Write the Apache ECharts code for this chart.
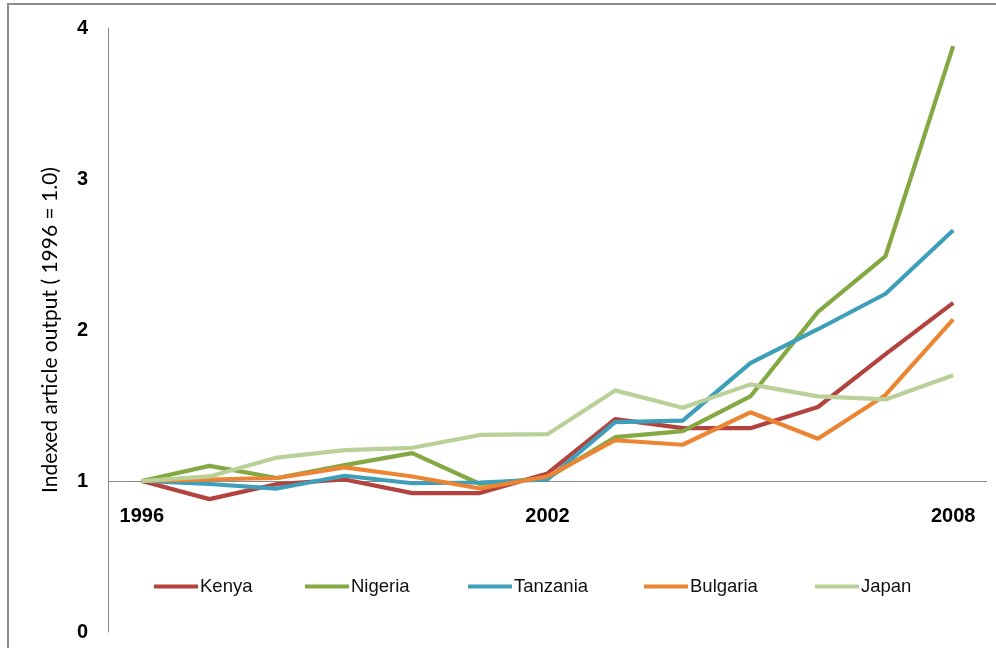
<!DOCTYPE html>
<html>
<head>
<meta charset="utf-8">
<script src="https://cdn.jsdelivr.net/npm/echarts@6/dist/echarts.min.js"></script>
<style>
  html, body { margin: 0; padding: 0; background: #fff; }
  #frame { position: absolute; left: 0; top: 0; width: 996px; height: 648px; }
  #border { position: absolute; left: 7px; top: 3px; width: 989px; height: 645px;
            border-left: 2px solid #8c8c8c; border-top: 2px solid #8c8c8c; box-sizing: border-box; }
  #chart { position: absolute; left: 0; top: 0; width: 996px; height: 648px; }
</style>
</head>
<body>
<div id="frame">
  <div id="border"></div>
  <div id="chart"></div>
</div>
<script>
const years = ['1996','1997','1998','1999','2000','2001','2002','2003','2004','2005','2006','2007','2008'];
const kenya    = [1.00, 0.88, 0.98, 1.01, 0.92, 0.92, 1.05, 1.41, 1.35, 1.35, 1.49, 1.84, 2.18];
const nigeria  = [1.00, 1.10, 1.02, 1.105, 1.185, 0.98, 1.02, 1.29, 1.33, 1.56, 2.12, 2.49, 3.88];
const tanzania = [1.00, 0.98, 0.95, 1.035, 0.985, 0.99, 1.01, 1.39, 1.40, 1.78, 2.005, 2.24, 2.66];
const bulgaria = [1.00, 1.01, 1.02, 1.09, 1.03, 0.95, 1.03, 1.27, 1.24, 1.455, 1.28, 1.57, 2.07];
const japan    = [1.00, 1.03, 1.155, 1.205, 1.22, 1.305, 1.31, 1.60, 1.485, 1.64, 1.56, 1.54, 1.70];
const yTicks = [0, 1, 2, 3, 4];
const yTitle = 'Indexed article output ( 1996 = 1.0)';

const seriesDefs = [
  { name: 'Kenya', data: kenya, color: '#B3433F' },
  { name: 'Nigeria', data: nigeria, color: '#84A842' },
  { name: 'Tanzania', data: tanzania, color: '#3E9FBA' },
  { name: 'Bulgaria', data: bulgaria, color: '#EC8533' },
  { name: 'Japan', data: japan, color: '#B9D199' }
];
const legendLeft = [149, 300, 463, 639, 810];

const chart = echarts.init(document.getElementById('chart'), null, { renderer: 'canvas' });
const labelFont = '"Liberation Sans", Arial, sans-serif';
const series = seriesDefs.map((s, i) => {
  const o = {
    name: s.name,
    type: 'line',
    data: s.data,
    symbol: 'none',
    lineStyle: { color: s.color, width: 4.2 },
    itemStyle: { color: s.color },
    z: 3
  };
  if (i === 0) {
    o.markLine = {
      silent: true,
      symbol: ['none', 'none'],
      label: { show: false },
      lineStyle: { color: '#8a8a8a', width: 1, type: 'solid' },
      data: [{ yAxis: 1 }],
      z: 1
    };
  }
  return o;
});
const legends = seriesDefs.map((s, i) => ({
  left: legendLeft[i],
  top: 572,
  itemWidth: 44,
  itemHeight: 4,
  icon: 'rect',
  textStyle: { color: '#111', fontSize: 18.5, fontFamily: labelFont, padding: [0, 0, 0, -3] },
  data: [s.name]
}));
chart.setOption({
  animation: false,
  grid: { left: 108, top: 28, right: 9, bottom: 16, containLabel: false },
  xAxis: {
    type: 'category',
    data: years,
    boundaryGap: true,
    axisLine: { show: false },
    axisTick: { show: false },
    axisLabel: {
      interval: 5,
      margin: -126,
      color: '#000',
      fontWeight: 'bold',
      fontSize: 20,
      fontFamily: labelFont
    },
    splitLine: { show: false }
  },
  yAxis: {
    type: 'value',
    min: yTicks[0],
    max: yTicks[yTicks.length - 1],
    interval: 1,
    axisLine: { show: true, lineStyle: { color: '#8a8a8a', width: 1 } },
    axisTick: { show: false },
    splitLine: { show: false },
    axisLabel: {
      margin: 20,
      color: '#000',
      fontWeight: 'bold',
      fontSize: 20,
      fontFamily: labelFont
    },
    name: yTitle,
    nameLocation: 'middle',
    nameGap: 47,
    nameRotate: 90,
    nameTextStyle: { color: '#000', fontSize: 21, fontFamily: 'Lato, sans-serif' }
  },
  legend: legends,
  series: series
});
</script>
</body>
</html>
